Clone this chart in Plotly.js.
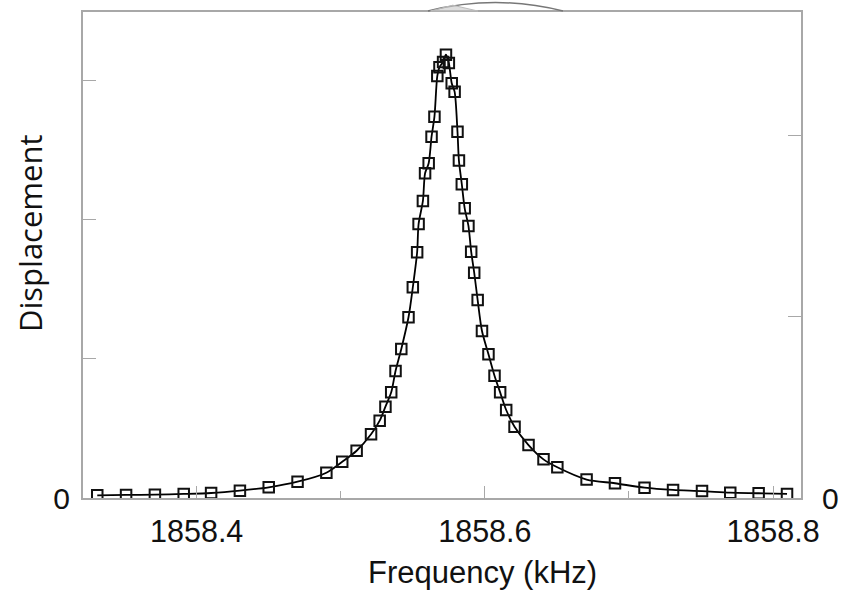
<!DOCTYPE html>
<html>
<head>
<meta charset="utf-8">
<script src="https://cdn.plot.ly/plotly-3.0.1.min.js"></script>
<style>html,body{margin:0;padding:0;background:#fff;}#chart{width:849px;height:590px;}</style>
</head>
<body>
<div id="chart"></div>
<script>
// Frequency (kHz) of each measured point
const frequency = [
  1858.331, 1858.351, 1858.371, 1858.391, 1858.410, 1858.430, 1858.450, 1858.470,
  1858.490, 1858.501, 1858.511, 1858.521, 1858.527, 1858.531, 1858.535, 1858.538,
  1858.542, 1858.547, 1858.550, 1858.553, 1858.554, 1858.557, 1858.5585, 1858.561,
  1858.563, 1858.565, 1858.567, 1858.5685, 1858.571, 1858.573, 1858.575, 1858.577,
  1858.579, 1858.581, 1858.582, 1858.584, 1858.586, 1858.5886, 1858.5905, 1858.5926,
  1858.595, 1858.598, 1858.6025, 1858.6067, 1858.6106, 1858.6148, 1858.6206, 1858.6303,
  1858.6407, 1858.6503, 1858.6706, 1858.6903, 1858.7108, 1858.7306, 1858.7507, 1858.7703,
  1858.790, 1858.8097
];
// Displacement (arbitrary units, left-axis tick = 1 unit)
const displacement = [
  0.019, 0.022, 0.024, 0.029, 0.036, 0.053, 0.077, 0.117,
  0.182, 0.261, 0.340, 0.458, 0.556, 0.657, 0.760, 0.914,
  1.072, 1.300, 1.516, 1.768, 1.971, 2.137, 2.336, 2.408,
  2.599, 2.743, 3.036, 3.099, 3.137, 3.189, 3.129, 2.983,
  2.923, 2.635, 2.427, 2.257, 2.084, 1.957, 1.772, 1.621,
  1.424, 1.201, 1.034, 0.880, 0.760, 0.633, 0.513, 0.381,
  0.278, 0.221, 0.133, 0.106, 0.074, 0.058, 0.050, 0.038,
  0.034, 0.029
];
const xTickVals = [1858.4, 1858.6, 1858.8];
const xTickText = ['1858.4', '1858.6', '1858.8'];
const xMinorVals = [1858.5, 1858.7];
const yLeftTickVals = [0, 1, 2, 3];
const yLeftTickText = ['0', '', '', ''];
const yRightTickVals = [0, 1, 2];
const yRightTickText = ['0', '', ''];

const gridGray = '#a8a8a8';

const traces = [
  {
    x: frequency, y: displacement, type: 'scatter', mode: 'lines',
    line: {color: '#000', width: 1.8, shape: 'spline', smoothing: 0.8},
    hoverinfo: 'skip', showlegend: false
  },
  {
    x: frequency, y: displacement, type: 'scatter', mode: 'markers',
    marker: {symbol: 'square-open', size: 10.5, color: '#111', line: {color: '#111', width: 2}},
    showlegend: false
  },
  {
    x: [null], y: [null], yaxis: 'y2', type: 'scatter', mode: 'markers', showlegend: false, hoverinfo: 'skip'
  }
];

const layout = {
  width: 849, height: 590,
  margin: {l: 83, r: 48, t: 12, b: 92},
  paper_bgcolor: '#fff', plot_bgcolor: '#fff',
  font: {family: '"Liberation Sans", Arial, sans-serif', color: '#111'},
  xaxis: {
    range: [1858.3211, 1858.8194],
    showgrid: false, zeroline: false,
    showline: true, linecolor: gridGray, linewidth: 2, mirror: true,
    ticks: 'inside', ticklen: 12, tickwidth: 1, tickcolor: gridGray,
    tickvals: xTickVals, ticktext: xTickText,
    tickfont: {size: 30.5, color: '#111'},
    ticklabelstandoff: 5,
    minor: {tickvals: xMinorVals, ticks: 'inside', ticklen: 7, tickwidth: 1, tickcolor: gridGray}
  },
  yaxis: {
    range: [0, 3.496],
    showgrid: false, zeroline: false,
    showline: true, linecolor: gridGray, linewidth: 2, mirror: true,
    ticks: 'inside', ticklen: 13, tickwidth: 1, tickcolor: gridGray,
    tickvals: yLeftTickVals, ticktext: yLeftTickText,
    tickfont: {size: 30, color: '#111'},
    ticklabelstandoff: 5
  },
  yaxis2: {
    overlaying: 'y', side: 'right',
    range: [0, 2.685],
    showgrid: false, zeroline: false, showline: false,
    ticks: 'inside', ticklen: 13, tickwidth: 1, tickcolor: gridGray,
    tickvals: yRightTickVals, ticktext: yRightTickText,
    tickfont: {size: 30, color: '#111'},
    ticklabelstandoff: 20
  },
  annotations: [
    {
      text: 'Frequency (kHz)', xref: 'paper', yref: 'paper',
      x: 0.5564, y: -0.1543, xanchor: 'center', yanchor: 'middle',
      showarrow: false, font: {size: 31, family: '"Liberation Sans", Arial, sans-serif', color: '#111'}
    },
    {
      text: 'Displacement', xref: 'paper', yref: 'paper',
      x: -0.0738, y: 0.5453, xanchor: 'center', yanchor: 'middle', textangle: -90,
      showarrow: false, font: {size: 31, family: '"Open Sans", "Noto Sans", sans-serif', color: '#111'}
    }
  ],
  shapes: [
    {
      type: 'path', xref: 'paper', yref: 'paper',
      path: 'M 0.4805 1.002 Q 0.5745 1.037 0.6685 1.002',
      line: {color: '#777', width: 1.5}
    },
    {
      type: 'path', xref: 'paper', yref: 'paper',
      path: 'M 0.484 1.002 L 0.515 1.014 L 0.550 1.002 Z',
      line: {color: '#bbb', width: 1}, fillcolor: 'rgba(200,200,200,0.6)'
    }
  ]
};

Plotly.newPlot('chart', traces, layout, {displayModeBar: false, staticPlot: true});
</script>
</body>
</html>
